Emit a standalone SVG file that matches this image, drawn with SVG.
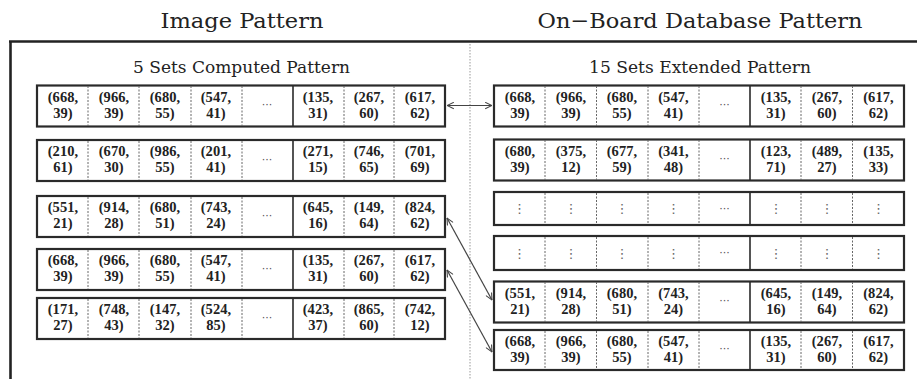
<svg xmlns="http://www.w3.org/2000/svg" width="917" height="379" viewBox="0 0 917 379">
<style>
.title{font-family:"DejaVu Serif","Liberation Serif",serif;font-size:21px;fill:#222;text-anchor:middle}
.sub{font-family:"DejaVu Serif","Liberation Serif",serif;font-size:17px;fill:#222;text-anchor:middle}
.c{font-family:"Liberation Serif","DejaVu Serif",serif;font-size:14.5px;font-weight:bold;fill:#222;text-anchor:middle;letter-spacing:0.1px}
.el{font-family:"DejaVu Sans",sans-serif;font-size:11px;fill:#555;text-anchor:middle}
.vd{font-family:"DejaVu Sans",sans-serif;font-size:13px;fill:#666;text-anchor:middle}
.box{fill:#fff;stroke:#2a2a2a;stroke-width:2.2}
.dv{stroke:#666;stroke-width:1;stroke-dasharray:2 1.5}
.sd{stroke:#2a2a2a;stroke-width:1.6}
.frame{stroke:#222;stroke-width:2.6;fill:none}
.conn{stroke:#444;stroke-width:1.2;fill:none;marker-start:url(#ah);marker-end:url(#ah)}
</style>
<defs>
<marker id="ah" viewBox="0 0 10 10" refX="9.5" refY="5" markerWidth="8" markerHeight="8" markerUnits="userSpaceOnUse" orient="auto-start-reverse">
<path d="M1,1 L9.5,5 L1,9" fill="none" stroke="#444" stroke-width="1.3"/>
</marker>
</defs>
<rect width="917" height="379" fill="#fff"/>
<g id="frame">
<line class="frame" x1="9" y1="41.5" x2="917" y2="41.5"/>
<line class="frame" x1="10.5" y1="41" x2="10.5" y2="379"/>
<line x1="470" y1="44" x2="470" y2="379" stroke="#999" stroke-width="1" stroke-dasharray="1.5 1.5"/>
</g>
<g id="titles">
<text class="title" x="242" y="28" textLength="163" lengthAdjust="spacingAndGlyphs">Image Pattern</text>
<text class="title" x="700" y="28" textLength="325" lengthAdjust="spacingAndGlyphs">On−Board Database Pattern</text>
<text class="sub" x="241.5" y="73" textLength="217" lengthAdjust="spacingAndGlyphs">5 Sets Computed Pattern</text>
<text class="sub" x="700" y="73" textLength="222" lengthAdjust="spacingAndGlyphs">15 Sets Extended Pattern</text>
</g>

<!-- Left rows -->
<g id="L1">
<rect class="box" x="37" y="85.5" width="408" height="41"/>
<line class="dv" x1="88" y1="86" x2="88" y2="126"/><line class="dv" x1="139" y1="86" x2="139" y2="126"/><line class="dv" x1="191" y1="86" x2="191" y2="126"/><line class="dv" x1="242" y1="86" x2="242" y2="126"/><line class="sd" x1="293" y1="86" x2="293" y2="126"/><line class="dv" x1="344" y1="86" x2="344" y2="126"/><line class="dv" x1="394" y1="86" x2="394" y2="126"/>
<text class="c" y="101.5"><tspan x="63">(668,</tspan><tspan x="114">(966,</tspan><tspan x="165">(680,</tspan><tspan x="216">(547,</tspan><tspan x="318">(135,</tspan><tspan x="369">(267,</tspan><tspan x="420">(617,</tspan></text>
<text class="c" y="117.5"><tspan x="63">39)</tspan><tspan x="114">39)</tspan><tspan x="165">55)</tspan><tspan x="216">41)</tspan><tspan x="318">31)</tspan><tspan x="369">60)</tspan><tspan x="420">62)</tspan></text>
<text class="el" x="267" y="108">···</text>
</g>
<g id="L2">
<rect class="box" x="37" y="140" width="408" height="41"/>
<line class="dv" x1="88" y1="141" x2="88" y2="180"/><line class="dv" x1="139" y1="141" x2="139" y2="180"/><line class="dv" x1="191" y1="141" x2="191" y2="180"/><line class="dv" x1="242" y1="141" x2="242" y2="180"/><line class="sd" x1="293" y1="141" x2="293" y2="180"/><line class="dv" x1="344" y1="141" x2="344" y2="180"/><line class="dv" x1="394" y1="141" x2="394" y2="180"/>
<text class="c" y="156"><tspan x="63">(210,</tspan><tspan x="114">(670,</tspan><tspan x="165">(986,</tspan><tspan x="216">(201,</tspan><tspan x="318">(271,</tspan><tspan x="369">(746,</tspan><tspan x="420">(701,</tspan></text>
<text class="c" y="172"><tspan x="63">61)</tspan><tspan x="114">30)</tspan><tspan x="165">55)</tspan><tspan x="216">41)</tspan><tspan x="318">15)</tspan><tspan x="369">65)</tspan><tspan x="420">69)</tspan></text>
<text class="el" x="267" y="162.5">···</text>
</g>
<g id="L3">
<rect class="box" x="37" y="196" width="408" height="41"/>
<line class="dv" x1="88" y1="197" x2="88" y2="236"/><line class="dv" x1="139" y1="197" x2="139" y2="236"/><line class="dv" x1="191" y1="197" x2="191" y2="236"/><line class="dv" x1="242" y1="197" x2="242" y2="236"/><line class="sd" x1="293" y1="197" x2="293" y2="236"/><line class="dv" x1="344" y1="197" x2="344" y2="236"/><line class="dv" x1="394" y1="197" x2="394" y2="236"/>
<text class="c" y="212"><tspan x="63">(551,</tspan><tspan x="114">(914,</tspan><tspan x="165">(680,</tspan><tspan x="216">(743,</tspan><tspan x="318">(645,</tspan><tspan x="369">(149,</tspan><tspan x="420">(824,</tspan></text>
<text class="c" y="228"><tspan x="63">21)</tspan><tspan x="114">28)</tspan><tspan x="165">51)</tspan><tspan x="216">24)</tspan><tspan x="318">16)</tspan><tspan x="369">64)</tspan><tspan x="420">62)</tspan></text>
<text class="el" x="267" y="218.5">···</text>
</g>
<g id="L4">
<rect class="box" x="37" y="249" width="408" height="41"/>
<line class="dv" x1="88" y1="250" x2="88" y2="289"/><line class="dv" x1="139" y1="250" x2="139" y2="289"/><line class="dv" x1="191" y1="250" x2="191" y2="289"/><line class="dv" x1="242" y1="250" x2="242" y2="289"/><line class="sd" x1="293" y1="250" x2="293" y2="289"/><line class="dv" x1="344" y1="250" x2="344" y2="289"/><line class="dv" x1="394" y1="250" x2="394" y2="289"/>
<text class="c" y="265"><tspan x="63">(668,</tspan><tspan x="114">(966,</tspan><tspan x="165">(680,</tspan><tspan x="216">(547,</tspan><tspan x="318">(135,</tspan><tspan x="369">(267,</tspan><tspan x="420">(617,</tspan></text>
<text class="c" y="281"><tspan x="63">39)</tspan><tspan x="114">39)</tspan><tspan x="165">55)</tspan><tspan x="216">41)</tspan><tspan x="318">31)</tspan><tspan x="369">60)</tspan><tspan x="420">62)</tspan></text>
<text class="el" x="267" y="271.5">···</text>
</g>
<g id="L5">
<rect class="box" x="37" y="298" width="408" height="41"/>
<line class="dv" x1="88" y1="299" x2="88" y2="338"/><line class="dv" x1="139" y1="299" x2="139" y2="338"/><line class="dv" x1="191" y1="299" x2="191" y2="338"/><line class="dv" x1="242" y1="299" x2="242" y2="338"/><line class="sd" x1="293" y1="299" x2="293" y2="338"/><line class="dv" x1="344" y1="299" x2="344" y2="338"/><line class="dv" x1="394" y1="299" x2="394" y2="338"/>
<text class="c" y="314"><tspan x="63">(171,</tspan><tspan x="114">(748,</tspan><tspan x="165">(147,</tspan><tspan x="216">(524,</tspan><tspan x="318">(423,</tspan><tspan x="369">(865,</tspan><tspan x="420">(742,</tspan></text>
<text class="c" y="330"><tspan x="63">27)</tspan><tspan x="114">43)</tspan><tspan x="165">32)</tspan><tspan x="216">85)</tspan><tspan x="318">37)</tspan><tspan x="369">60)</tspan><tspan x="420">12)</tspan></text>
<text class="el" x="267" y="320.5">···</text>
</g>

<!-- Right rows -->
<g id="R1">
<rect class="box" x="494" y="85.5" width="410" height="41"/>
<line class="dv" x1="545" y1="86" x2="545" y2="126"/><line class="dv" x1="596.5" y1="86" x2="596.5" y2="126"/><line class="dv" x1="648" y1="86" x2="648" y2="126"/><line class="dv" x1="699" y1="86" x2="699" y2="126"/><line class="sd" x1="750" y1="86" x2="750" y2="126"/><line class="dv" x1="801" y1="86" x2="801" y2="126"/><line class="dv" x1="852.5" y1="86" x2="852.5" y2="126"/>
<text class="c" y="101.5"><tspan x="520">(668,</tspan><tspan x="571">(966,</tspan><tspan x="622">(680,</tspan><tspan x="673.5">(547,</tspan><tspan x="776">(135,</tspan><tspan x="827">(267,</tspan><tspan x="878.5">(617,</tspan></text>
<text class="c" y="117.5"><tspan x="520">39)</tspan><tspan x="571">39)</tspan><tspan x="622">55)</tspan><tspan x="673.5">41)</tspan><tspan x="776">31)</tspan><tspan x="827">60)</tspan><tspan x="878.5">62)</tspan></text>
<text class="el" x="724.5" y="108">···</text>
</g>
<g id="R2">
<rect class="box" x="494" y="139.5" width="410" height="41"/>
<line class="dv" x1="545" y1="140" x2="545" y2="180"/><line class="dv" x1="596.5" y1="140" x2="596.5" y2="180"/><line class="dv" x1="648" y1="140" x2="648" y2="180"/><line class="dv" x1="699" y1="140" x2="699" y2="180"/><line class="sd" x1="750" y1="140" x2="750" y2="180"/><line class="dv" x1="801" y1="140" x2="801" y2="180"/><line class="dv" x1="852.5" y1="140" x2="852.5" y2="180"/>
<text class="c" y="155.5"><tspan x="520">(680,</tspan><tspan x="571">(375,</tspan><tspan x="622">(677,</tspan><tspan x="673.5">(341,</tspan><tspan x="776">(123,</tspan><tspan x="827">(489,</tspan><tspan x="878.5">(135,</tspan></text>
<text class="c" y="171.5"><tspan x="520">39)</tspan><tspan x="571">12)</tspan><tspan x="622">59)</tspan><tspan x="673.5">48)</tspan><tspan x="776">71)</tspan><tspan x="827">27)</tspan><tspan x="878.5">33)</tspan></text>
<text class="el" x="724.5" y="162">···</text>
</g>
<g id="R3">
<rect class="box" x="494" y="192" width="410" height="33"/>
<line class="dv" x1="545" y1="193" x2="545" y2="224"/><line class="dv" x1="596.5" y1="193" x2="596.5" y2="224"/><line class="dv" x1="648" y1="193" x2="648" y2="224"/><line class="dv" x1="699" y1="193" x2="699" y2="224"/><line class="sd" x1="750" y1="193" x2="750" y2="224"/><line class="dv" x1="801" y1="193" x2="801" y2="224"/><line class="dv" x1="852.5" y1="193" x2="852.5" y2="224"/>
<text class="vd" y="213"><tspan x="519.5">⋮</tspan><tspan x="571">⋮</tspan><tspan x="622">⋮</tspan><tspan x="673.5">⋮</tspan><tspan x="776">⋮</tspan><tspan x="827">⋮</tspan><tspan x="878.5">⋮</tspan></text>
<text class="el" x="724.5" y="211.5">···</text>
</g>
<g id="R4">
<rect class="box" x="494" y="236" width="410" height="34"/>
<line class="dv" x1="545" y1="237" x2="545" y2="269"/><line class="dv" x1="596.5" y1="237" x2="596.5" y2="269"/><line class="dv" x1="648" y1="237" x2="648" y2="269"/><line class="dv" x1="699" y1="237" x2="699" y2="269"/><line class="sd" x1="750" y1="237" x2="750" y2="269"/><line class="dv" x1="801" y1="237" x2="801" y2="269"/><line class="dv" x1="852.5" y1="237" x2="852.5" y2="269"/>
<text class="vd" y="257.5"><tspan x="519.5">⋮</tspan><tspan x="571">⋮</tspan><tspan x="622">⋮</tspan><tspan x="673.5">⋮</tspan><tspan x="776">⋮</tspan><tspan x="827">⋮</tspan><tspan x="878.5">⋮</tspan></text>
<text class="el" x="724.5" y="256">···</text>
</g>
<g id="R5">
<rect class="box" x="494" y="281.5" width="410" height="41"/>
<line class="dv" x1="545" y1="282" x2="545" y2="322"/><line class="dv" x1="596.5" y1="282" x2="596.5" y2="322"/><line class="dv" x1="648" y1="282" x2="648" y2="322"/><line class="dv" x1="699" y1="282" x2="699" y2="322"/><line class="sd" x1="750" y1="282" x2="750" y2="322"/><line class="dv" x1="801" y1="282" x2="801" y2="322"/><line class="dv" x1="852.5" y1="282" x2="852.5" y2="322"/>
<text class="c" y="297.5"><tspan x="520">(551,</tspan><tspan x="571">(914,</tspan><tspan x="622">(680,</tspan><tspan x="673.5">(743,</tspan><tspan x="776">(645,</tspan><tspan x="827">(149,</tspan><tspan x="878.5">(824,</tspan></text>
<text class="c" y="313.5"><tspan x="520">21)</tspan><tspan x="571">28)</tspan><tspan x="622">51)</tspan><tspan x="673.5">24)</tspan><tspan x="776">16)</tspan><tspan x="827">64)</tspan><tspan x="878.5">62)</tspan></text>
<text class="el" x="724.5" y="304">···</text>
</g>
<g id="R6">
<rect class="box" x="494" y="330" width="410" height="40"/>
<line class="dv" x1="545" y1="331" x2="545" y2="369"/><line class="dv" x1="596.5" y1="331" x2="596.5" y2="369"/><line class="dv" x1="648" y1="331" x2="648" y2="369"/><line class="dv" x1="699" y1="331" x2="699" y2="369"/><line class="sd" x1="750" y1="331" x2="750" y2="369"/><line class="dv" x1="801" y1="331" x2="801" y2="369"/><line class="dv" x1="852.5" y1="331" x2="852.5" y2="369"/>
<text class="c" y="345.5"><tspan x="520">(668,</tspan><tspan x="571">(966,</tspan><tspan x="622">(680,</tspan><tspan x="673.5">(547,</tspan><tspan x="776">(135,</tspan><tspan x="827">(267,</tspan><tspan x="878.5">(617,</tspan></text>
<text class="c" y="361.5"><tspan x="520">39)</tspan><tspan x="571">39)</tspan><tspan x="622">55)</tspan><tspan x="673.5">41)</tspan><tspan x="776">31)</tspan><tspan x="827">60)</tspan><tspan x="878.5">62)</tspan></text>
<text class="el" x="724.5" y="352">···</text>
</g>

<g id="connectors">
<line class="conn" x1="447" y1="105.5" x2="492" y2="105.5"/>
<line class="conn" x1="447" y1="218" x2="492" y2="300"/>
<line class="conn" x1="447" y1="270" x2="492" y2="352"/>
</g>
</svg>
